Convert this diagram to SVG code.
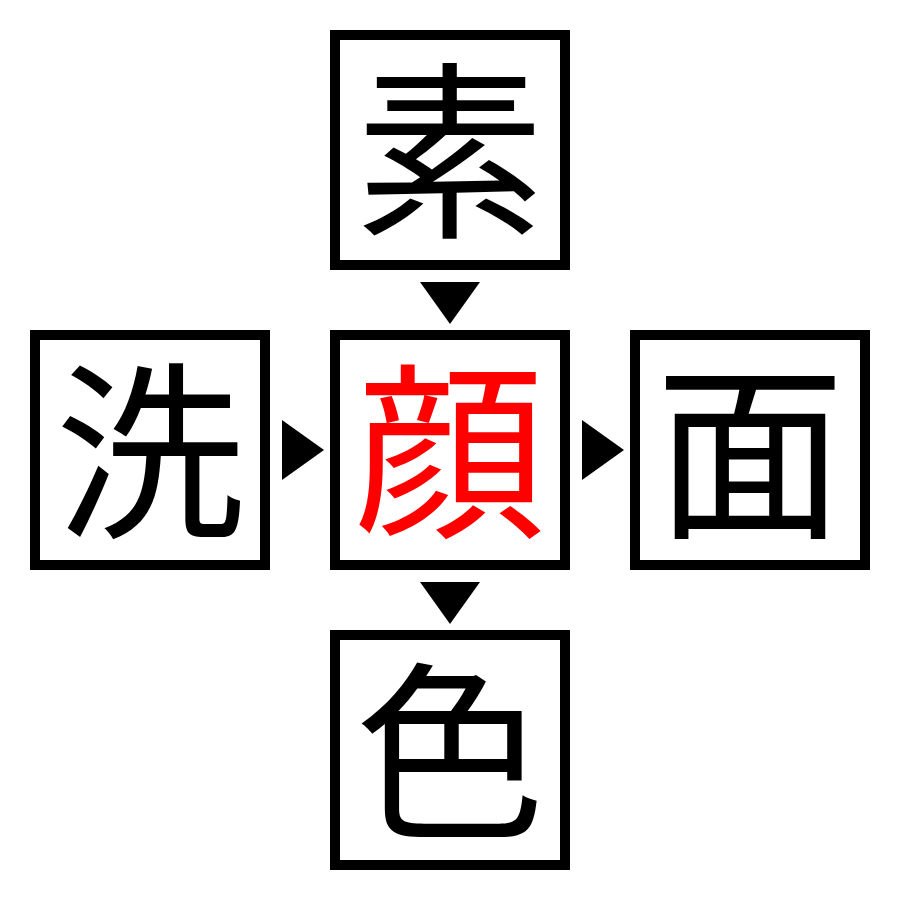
<svg xmlns="http://www.w3.org/2000/svg" width="900" height="900" viewBox="0 0 900 900">
<style>
.box{fill:#fff;stroke:#000;stroke-width:10}
.ch{font-family:"Noto Sans CJK JP","Noto Sans CJK SC",sans-serif;font-size:190px;text-anchor:middle;dominant-baseline:central;fill:#000}
.red{fill:#ff0000}
.arr{fill:#000}
</style>
<rect width="900" height="900" fill="#fff"/>
<g id="node-top"><rect class="box" x="335" y="35" width="230" height="230"/><text class="ch" x="450" y="140">素</text></g>
<g id="node-left"><rect class="box" x="35" y="335" width="230" height="230"/><text class="ch" x="150" y="440">洗</text></g>
<g id="node-center"><rect class="box" x="335" y="335" width="230" height="230"/><text class="ch red" x="450" y="440">顔</text></g>
<g id="node-right"><rect class="box" x="635" y="335" width="230" height="230"/><text class="ch" x="750" y="440">面</text></g>
<g id="node-bottom"><rect class="box" x="335" y="635" width="230" height="230"/><text class="ch" x="450" y="740">色</text></g>
<g id="connectors">
<polygon class="arr" points="420,282 480,282 450,324"/>
<polygon class="arr" points="282,420 282,480 324,450"/>
<polygon class="arr" points="582,420 582,480 624,450"/>
<polygon class="arr" points="420,582 480,582 450,624"/>
</g>
</svg>
